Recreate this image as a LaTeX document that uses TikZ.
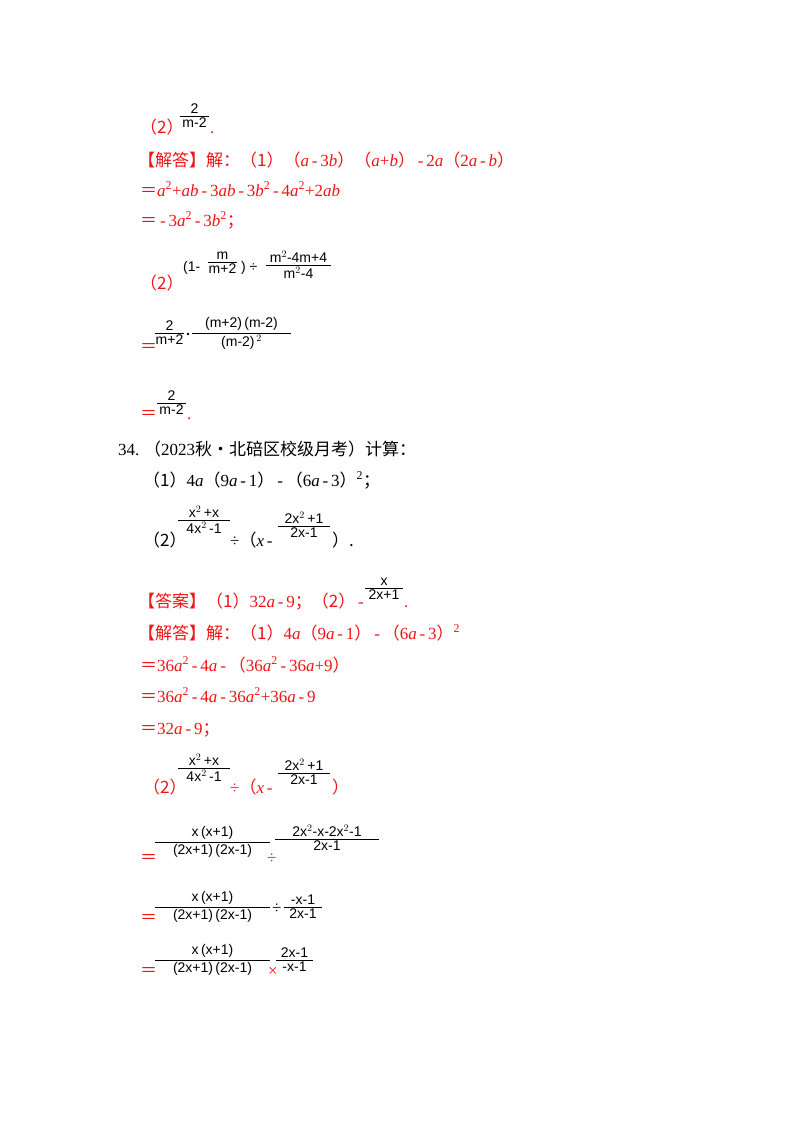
\documentclass[tikz,border=0pt]{standalone}
\usepackage{fontspec}
\setmainfont{Liberation Serif}
\newfontfamily\cjk{Noto Sans CJK SC}
\newfontfamily\fsans{Liberation Sans}
\newcommand\ia[1]{\textit{#1}}
\newcommand\mn{\,-\,}
\definecolor{ansred}{RGB}{240,20,20}
\tikzset{t/.style={anchor=base west,inner sep=0pt,font=\fontsize{17}{19}\selectfont},
 r/.style={t,text=ansred},
 fl/.style={line width=0.6pt},
 ft/.style={inner sep=1pt,font=\fsans\fontsize{14}{15}\selectfont}}
\newcommand\fr[5]{\draw[fl] (#1,#3)--(#2,#3);
 \node[ft,anchor=south] at ({(#1+#2)/2},#3-1) {#4};
 \node[ft,anchor=north] at ({(#1+#2)/2},#3+1) {#5};}
\begin{document}
\begin{tikzpicture}[x=1pt,y=-1pt]
\useasboundingbox[fill=white] (0,0) rectangle (800,1132);
\node[r] at (140,133) {\cjk （2）};
\fr{180}{209}{116}{2}{m-2}
\node[r] at (210,133) {.};
\node[r] at (138,166) {{\cjk 【解答】解：（1）（}\ia{a}\mn3\ia{b}{\cjk ）（}\ia{a}+\ia{b}{\cjk ）}\mn2\ia{a}{\cjk （}2\ia{a}\mn\ia{b}{\cjk ）}};
\node[r] at (140,196) {{\cjk ＝}\ia{a}\textsuperscript{2}+\ia{ab}\mn3\ia{ab}\mn3\ia{b}\textsuperscript{2}\mn4\ia{a}\textsuperscript{2}+2\ia{ab}};
\node[r] at (140,226) {{\cjk ＝}\mn3\ia{a}\textsuperscript{2}\mn3\ia{b}\textsuperscript{2}{\cjk ；}};
\node[r] at (140,289) {\cjk （2）};
\node[ft,anchor=base west] at (182,271) {(1-};
\fr{208}{237}{262}{m}{m+2}
\node[ft,anchor=base west] at (240,271) {)\;÷};
\fr{266}{331}{265}{m$^{2}$-4m+4}{m$^{2}$-4}
\node[r] at (140,352) {\cjk ＝};
\fr{155}{184}{333}{2}{m+2}
\fill (188,334) circle (1.4);
\fr{192}{291}{333}{(m+2)\,(m-2)}{(m-2)$^{\,2}$}
\node[r] at (140,419) {\cjk ＝};
\fr{157}{186}{403}{2}{m-2}
\node[r] at (187,419) {.};
\node[t] at (118,455) {34.\;{\cjk （}2023{\cjk 秋•北碚区校级月考）计算：}};
\node[t] at (143,486) {{\cjk （1）}4\ia{a}{\cjk （}9\ia{a}\mn1{\cjk ）}\mn{\cjk （}6\ia{a}\mn3{\cjk ）}\textsuperscript{2}{\cjk ；}};
\node[t] at (143,546) {\cjk （2）};
\fr{178}{230}{520}{x$^{2}$\,+x}{4x$^{2}$\,-1}
\node[t] at (230,546) {÷{\cjk （}\ia{x}\mn};
\fr{278}{330}{526}{2x$^{2}$\,+1}{2x-1}
\node[t] at (332,546) {\cjk ）.};
\node[r] at (138,607) {{\cjk 【答案】（1）}32\ia{a}\mn9{\cjk ；（2）}\mn};
\fr{365}{403}{588}{x}{2x+1}
\node[r] at (404,607) {.};
\node[r] at (138,639) {{\cjk 【解答】解：（1）}4\ia{a}{\cjk （}9\ia{a}\mn1{\cjk ）}\mn{\cjk （}6\ia{a}\mn3{\cjk ）}\textsuperscript{2}};
\node[r] at (140,671) {{\cjk ＝}36\ia{a}\textsuperscript{2}\mn4\ia{a}\mn{\cjk （}36\ia{a}\textsuperscript{2}\mn36\ia{a}+9{\cjk ）}};
\node[r] at (140,702) {{\cjk ＝}36\ia{a}\textsuperscript{2}\mn4\ia{a}\mn36\ia{a}\textsuperscript{2}+36\ia{a}\mn9};
\node[r] at (140,734) {{\cjk ＝}32\ia{a}\mn9{\cjk ；}};
\node[r] at (143,793) {\cjk （2）};
\fr{178}{230}{768}{x$^{2}$\,+x}{4x$^{2}$\,-1}
\node[r] at (230,793) {÷{\cjk （}\ia{x}\mn};
\fr{278}{330}{773}{2x$^{2}$\,+1}{2x-1}
\node[r] at (332,793) {\cjk ）};
\node[r] at (140,863) {\cjk ＝};
\fr{155}{270}{842}{x\,(x+1)}{(2x+1)\,(2x-1)}
\node[r] at (267,863) {÷};
\fr{275}{379}{839}{2x$^{2}$-x-2x$^{2}$-1}{2x-1}
\node[r] at (140,923) {\cjk ＝};
\fr{155}{270}{907}{x\,(x+1)}{(2x+1)\,(2x-1)}
\node[t] at (272,913) {÷};
\fr{284}{322}{907}{-x-1}{2x-1}
\node[r] at (140,976) {\cjk ＝};
\fr{155}{270}{960}{x\,(x+1)}{(2x+1)\,(2x-1)}
\node[r] at (268,976) {×};
\fr{276}{313}{960}{2x-1}{-x-1}
\end{tikzpicture}
\end{document}
